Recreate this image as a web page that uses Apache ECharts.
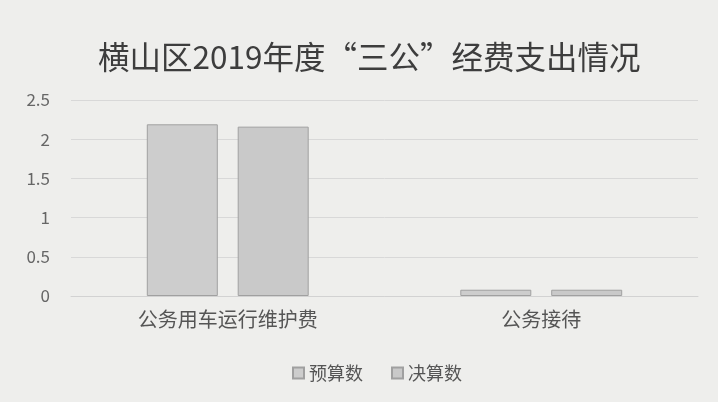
<!DOCTYPE html>
<html><head><meta charset="utf-8">
<script src="https://cdn.jsdelivr.net/npm/echarts@6/dist/echarts.min.js"></script>
<style>html,body{margin:0;padding:0;background:#eeeeec;}#c{width:718px;height:402px;}</style>
</head><body><div id="c"></div>
<script>
const title = '横山区2019年度“三公”经费支出情况';
const categories = ['公务用车运行维护费', '公务接待'];
const budget = [2.19, 0.08];
const actual = [2.16, 0.08];
const seriesNames = ['预算数', '决算数'];
const yTicks = [0, 0.5, 1, 1.5, 2, 2.5];

const chart = echarts.init(document.getElementById('c'));
const font = '"Noto Sans CJK SC", sans-serif';
chart.setOption({
  backgroundColor: '#eeeeec',
  title: { text: title, left: 93, top: 36,
    textStyle: { fontFamily: font, fontSize: 31.5, fontWeight: 'normal', color: '#3d3d3d' } },
  grid: { left: 71, right: 20, top: 100, bottom: 106 },
  legend: { bottom: 15, left: 287, itemWidth: 11, itemHeight: 11, itemGap: 28, icon: 'rect',
    textStyle: { fontFamily: font, fontSize: 18, color: '#555' },
    data: seriesNames },
  xAxis: { type: 'category', data: categories,
    axisLine: { lineStyle: { color: '#d2d2d2' } }, axisTick: { show: false },
    axisLabel: { fontFamily: font, fontSize: 20, color: '#555', margin: 13 } },
  yAxis: { type: 'value', min: yTicks[0], max: yTicks[yTicks.length-1], interval: 0.5,
    axisLine: { show: false }, axisTick: { show: false },
    axisLabel: { fontFamily: font, fontSize: 17, color: '#666', margin: 21 },
    splitLine: { lineStyle: { color: '#d8d8d8' } } },
  series: [
    { name: seriesNames[0], type: 'bar', data: budget, barWidth: 71, barGap: '28%',
      itemStyle: { color: '#cdcdcd', borderColor: '#a0a0a0', borderWidth: 1 } },
    { name: seriesNames[1], type: 'bar', data: actual, barWidth: 71,
      itemStyle: { color: '#c9c9c9', borderColor: '#a0a0a0', borderWidth: 1 } }
  ]
});
</script></body></html>
